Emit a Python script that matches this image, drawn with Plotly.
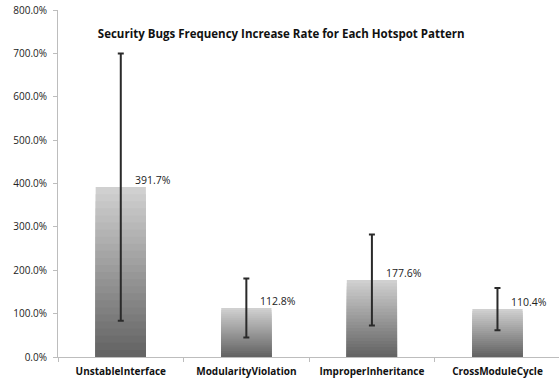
import plotly.graph_objects as go

categories = ["UnstableInterface", "ModularityViolation", "ImproperInheritance", "CrossModuleCycle"]
rates = [391.7, 112.8, 177.6, 110.4]
errors = [308.0, 68.0, 105.0, 48.5]
y_ticks = [0, 100, 200, 300, 400, 500, 600, 700, 800]
y_tick_labels = [f"{v:.1f}%" for v in y_ticks]

fig = go.Figure()

# simulated vertical gradient: light at top, dark at bottom
N = 24
top_c = (208, 208, 208)
bot_c = (100, 100, 100)
for k in range(N):
    frac = (N - k) / N
    t = k / (N - 1)
    c = tuple(int(top_c[i] + (bot_c[i] - top_c[i]) * t) for i in range(3))
    fig.add_trace(go.Bar(
        x=categories, y=[v * frac for v in rates],
        marker=dict(color=f"rgb{c}", line=dict(width=0)),
        hoverinfo="skip", showlegend=False,
    ))

# error bars
fig.add_trace(go.Scatter(
    x=categories, y=rates, mode="markers",
    marker=dict(size=0.1, color="rgba(0,0,0,0)"),
    error_y=dict(type="data", array=errors, visible=True,
                 color="#2a2a2a", thickness=2, width=3),
    showlegend=False, hoverinfo="skip",
))

for c, v in zip(categories, rates):
    fig.add_annotation(x=c, y=v, text=f"{v:.1f}%", showarrow=False,
                       xanchor="left", yanchor="middle", xshift=12, yshift=7,
                       font=dict(family="Open Sans", size=10.5, color="#222"))

fig.update_layout(
    width=559, height=383,
    barmode="overlay", bargap=0.6,
    margin=dict(l=58, r=0, t=10, b=26),
    paper_bgcolor="white", plot_bgcolor="white",
    title=dict(text="<b>Security Bugs Frequency Increase Rate for Each Hotspot Pattern</b>",
               x=0.503, xanchor="center", y=0.912, yanchor="middle",
               font=dict(family="Open Sans", size=11.5, color="#111")),
    xaxis=dict(type="category", range=[-0.5, 3.49], showline=True, linecolor="#bdbdbd",
               linewidth=1, ticks="outside", tickson="boundaries", ticklen=4,
               tickcolor="#bdbdbd", showgrid=False, automargin=False,
               ticklabelstandoff=5,
               tickfont=dict(family="Open Sans", size=10, color="#111"),
               ticktext=[f"<b>{c}</b>" for c in categories], tickvals=categories),
    yaxis=dict(range=[0, 800], tickvals=y_ticks, ticktext=y_tick_labels,
               showline=True, linecolor="#bdbdbd", linewidth=1, ticks="outside",
               ticklen=4, tickcolor="#bdbdbd", showgrid=False, zeroline=False,
               automargin=False, ticklabelstandoff=4,
               tickfont=dict(family="Open Sans", size=10, color="#222")),
)

fig.write_html("out.html", config={"displayModeBar": False},
               post_script="document.body.style.margin='0';document.body.style.overflow='hidden';")
